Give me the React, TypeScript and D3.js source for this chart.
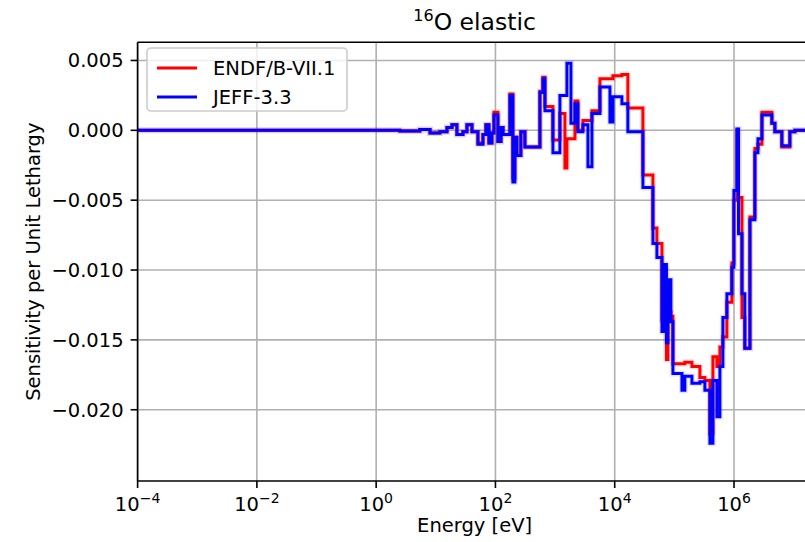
import * as d3 from "d3";

// energy group boundaries [eV]
const groupEdges = [
  1e-4, 2.5, 5.4, 8, 11.7, 15.4, 18.7, 22.6, 28.5, 33.3, 40.4, 50.9, 61.8, 69.3, 77.8, 87.3,
  94.4, 110, 124, 134, 175, 196, 212, 229, 267, 312, 557, 625, 676, 920, 1205, 1462, 1580,
  1845, 2153, 2415, 2930, 3555, 4150, 5650, 8310, 9330, 13200, 16600, 29700, 43700, 51000,
  61900, 69500, 73600, 78000, 87500, 94600, 134000, 150000, 197000, 268000, 325000, 394000,
  443000, 516000, 580000, 651000, 760000, 921000, 996000, 1.12e6, 1.19e6, 1.36e6, 1.52e6,
  1.85e6, 2.24e6, 2.52e6, 2.94e6, 4.32e6, 4.85e6, 6.35e6, 8.65e6, 1.05e7, 2e7,
];

// sensitivity per unit lethargy, one value per group
const endfValues = [
  0, -0.00005, 0.00005, -0.0002, -0.0001, 0.0002, 0.0004, -0.0003, -0.0001, 0.0004, -0.0001,
  -0.0009, -0.0003, 0.0004, -0.0009, -0.0002, 0.0013, -0.0008, 0.0002, -0.0003, 0.0026,
  -0.0034, -0.0005, -0.0018, -0.0001, -0.0012, 0.0028, 0.0038, 0.0017, -0.0007, 0.0012,
  -0.0027, -0.0006, -0.0006, 0.0021, 0.0, 0.0007, 0.0007, 0.0014, 0.0037, 0.0037, 0.0039,
  0.004, 0.0016, -0.0032, -0.007, -0.0081, -0.0136, -0.01, -0.0164, -0.013, -0.0133,
  -0.0167, -0.0167, -0.0166, -0.0169, -0.0177, -0.0179, -0.0217, -0.0162, -0.0169, -0.0155,
  -0.0148, -0.0123, -0.0095, -0.005, 0.0, -0.0048, -0.0134, -0.0156, -0.0062, -0.0013,
  -0.001, 0.0013, 0.0005, -0.0001, -0.0012, -0.0001, 0,
];

const jeffValues = [
  0, -0.00005, 0.00005, -0.0002, -0.0001, 0.0002, 0.0004, -0.0003, -0.0001, 0.0004, -0.0001,
  -0.001, -0.0003, 0.0004, -0.0009, -0.0002, 0.0011, -0.0008, 0.0002, -0.0003, 0.0025,
  -0.0037, -0.0005, -0.0018, -0.0001, -0.0012, 0.0027, 0.0037, 0.0014, -0.0016, 0.0025,
  0.0025, 0.0048, 0.0005, 0.0019, -0.0001, 0.0004, -0.0026, 0.0012, 0.0031, 0.0006, 0.0024,
  0.0019, -0.0001, -0.0041, -0.0081, -0.0091, -0.0144, -0.0096, -0.0152, -0.0107, -0.0137,
  -0.0174, -0.0186, -0.0176, -0.0181, -0.018, -0.0186, -0.0224, -0.0179, -0.0205, -0.0169,
  -0.0134, -0.0117, -0.0098, -0.0043, 0.0001, -0.0074, -0.0117, -0.0156, -0.0064, -0.0016,
  -0.0006, 0.0011, 0.0005, -0.0001, -0.0011, -0.0001, 0,
];

const seriesNames = ["ENDF/B-VII.1", "JEFF-3.3"];
const seriesColors = ["#ff0000", "#0000ff"];
const xTickExponents = [-4, -2, 0, 2, 4, 6];
const yTickValues = [0.005, 0, -0.005, -0.01, -0.015, -0.02];

const W = 805;
const H = 542;
const plot = { left: 137.6, right: 811.6, top: 42.3, bottom: 481 };
const font = "DejaVu Sans, sans-serif";

const x = d3.scaleLog().domain([1e-4, 2e7]).range([plot.left, plot.right]);
const y = d3.scaleLinear().domain([-0.0251, 0.0063]).range([plot.bottom, plot.top]);

const stepLine = d3
  .line<[number, number]>()
  .x((d) => x(d[0]))
  .y((d) => y(d[1]))
  .curve(d3.curveStepAfter);

const toPoints = (vals: number[]): [number, number][] => {
  const pts: [number, number][] = vals.map((v, i) => [groupEdges[i], v]);
  pts.push([groupEdges[groupEdges.length - 1], vals[vals.length - 1]]);
  return pts;
};

const fmtY = d3.format(".3f");

export default function App() {
  const series = [endfValues, jeffValues];
  return (
    <svg
      width={W}
      height={H}
      style={{ position: "fixed", left: 0, top: 0, background: "#fff" }}
      fontFamily={font}
    >
      <defs>
        <clipPath id="plotClip">
          <rect x={plot.left} y={plot.top} width={plot.right - plot.left} height={plot.bottom - plot.top} />
        </clipPath>
      </defs>
      <rect width={W} height={H} fill="#fff" />

      {/* grid */}
      <g stroke="#b0b0b0" strokeWidth={1.6}>
        {xTickExponents.map((e) => (
          <line key={"gx" + e} x1={x(10 ** e)} x2={x(10 ** e)} y1={plot.top} y2={plot.bottom} />
        ))}
        {yTickValues.map((v) => (
          <line key={"gy" + v} x1={plot.left} x2={plot.right} y1={y(v)} y2={y(v)} />
        ))}
      </g>

      {/* series */}
      <g clipPath="url(#plotClip)" fill="none" strokeLinejoin="miter">
        {series.map((vals, i) => (
          <g key={i}>
            <path d={stepLine(toPoints(vals)) ?? ""} stroke={seriesColors[i]} strokeOpacity={0.1} strokeWidth={6} />
            <path d={stepLine(toPoints(vals)) ?? ""} stroke={seriesColors[i]} strokeWidth={3} />
          </g>
        ))}
      </g>

      {/* axes */}
      <g stroke="#000" strokeWidth={1.6} fill="none">
        <line x1={plot.left} x2={plot.left} y1={plot.top} y2={plot.bottom} />
        <line x1={plot.left} x2={plot.right} y1={plot.bottom} y2={plot.bottom} />
        <line x1={plot.left} x2={plot.right} y1={plot.top} y2={plot.top} />
        <line x1={plot.right} x2={plot.right} y1={plot.top} y2={plot.bottom} />
        {xTickExponents.map((e) => (
          <line key={"tx" + e} x1={x(10 ** e)} x2={x(10 ** e)} y1={plot.bottom} y2={plot.bottom + 7} />
        ))}
        {yTickValues.map((v) => (
          <line key={"ty" + v} x1={plot.left - 7} x2={plot.left} y1={y(v)} y2={y(v)} />
        ))}
      </g>

      {/* tick labels */}
      <g fontSize={19.5} fill="#000">
        {yTickValues.map((v) => (
          <text key={"ly" + v} x={plot.left - 14} y={y(v)} dy="0.36em" textAnchor="end">
            {fmtY(v)}
          </text>
        ))}
        {xTickExponents.map((e) => (
          <text key={"lx" + e} x={x(10 ** e)} y={plot.bottom + 30} textAnchor="middle">
            10
            <tspan dy={-8} fontSize={14}>
              {e < 0 ? "\u2212" + Math.abs(e) : String(e)}
            </tspan>
          </text>
        ))}
      </g>

      {/* axis labels */}
      <text x={(plot.left + plot.right) / 2} y={532} textAnchor="middle" fontSize={19.5}>
        Energy [eV]
      </text>
      <text
        transform={`translate(40, ${(plot.top + plot.bottom) / 2}) rotate(-90)`}
        textAnchor="middle"
        fontSize={19.5}
      >
        Sensitivity per Unit Lethargy
      </text>

      {/* title */}
      <text x={(plot.left + plot.right) / 2} y={30} textAnchor="middle" fontSize={23.5}>
        <tspan fontSize={16} dy={-9}>16</tspan>
        <tspan dy={9}>O elastic</tspan>
      </text>

      {/* legend */}
      <g>
        <rect x={147} y={48} width={200} height={63} rx={4} fill="#fff" fillOpacity={0.8} stroke="#cccccc" strokeWidth={1.6} />
        {seriesNames.map((name, i) => (
          <g key={name}>
            <line x1={157} x2={197} y1={68 + i * 29} y2={68 + i * 29} stroke={seriesColors[i]} strokeWidth={3} />
            <text x={213} y={68 + i * 29} dy="0.36em" fontSize={19.5}>
              {name}
            </text>
          </g>
        ))}
      </g>
    </svg>
  );
}
